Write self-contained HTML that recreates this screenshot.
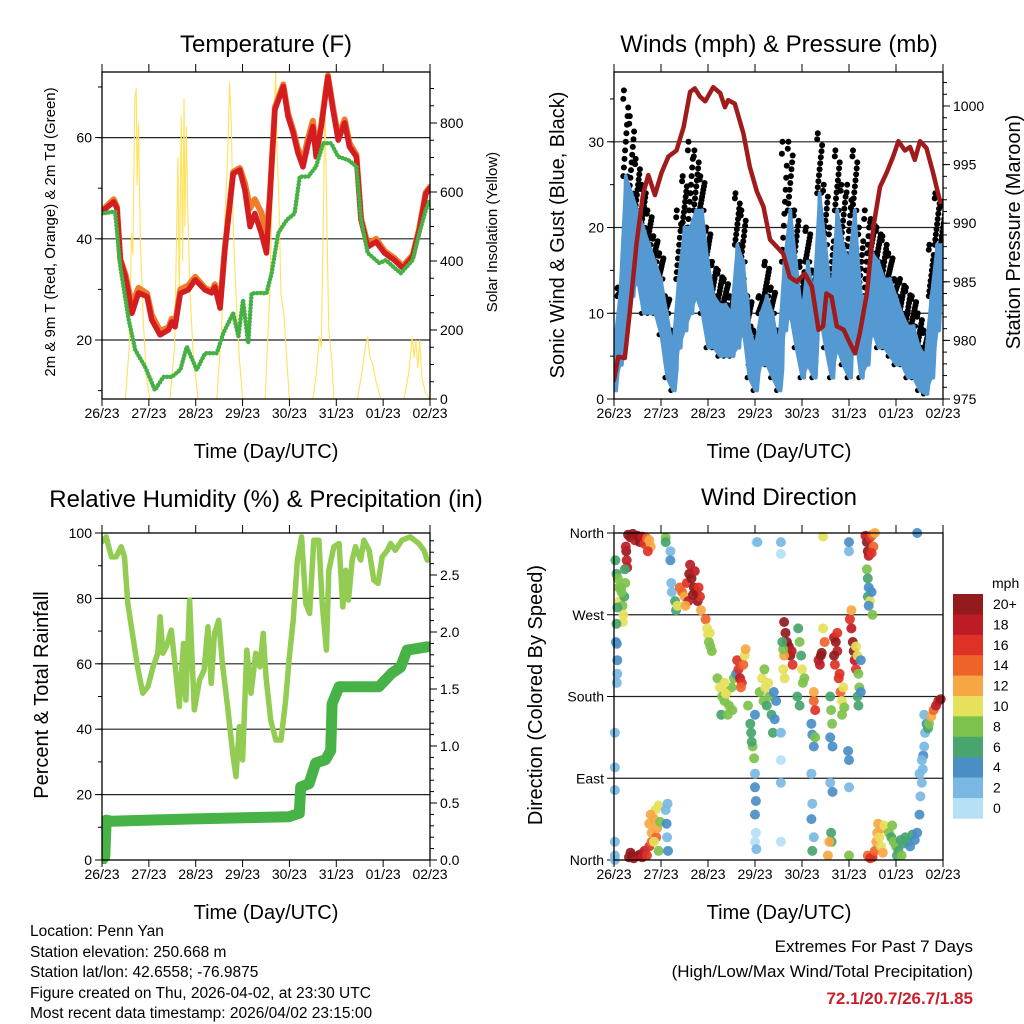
<!DOCTYPE html>
<html><head><meta charset="utf-8"><title>Station Meteogram - Penn Yan</title>
<style>
html,body{margin:0;padding:0;background:#fff;}
svg{display:block;font-family:"Liberation Sans",sans-serif;}
.tk{font-size:14px;fill:#000;}
.ttl{font-size:24px;fill:#000;}
.axt{font-size:20px;fill:#000;}
.info{font-size:15.5px;fill:#000;}
</style></head>
<body>
<svg id="chart" width="1024" height="1024" viewBox="0 0 1024 1024" xmlns="http://www.w3.org/2000/svg">
<rect x="0" y="0" width="1024" height="1024" fill="#fff"/>
<text class="ttl" x="266" y="52" text-anchor="middle">Temperature (F)</text>
<text class="ttl" x="779" y="52" text-anchor="middle">Winds (mph) &amp; Pressure (mb)</text>
<text class="ttl" x="266" y="507" text-anchor="middle">Relative Humidity (%) &amp; Precipitation (in)</text>
<text class="ttl" x="779" y="505" text-anchor="middle">Wind Direction</text>
<text class="axt" x="266" y="458" text-anchor="middle">Time (Day/UTC)</text>
<text class="axt" x="779" y="458" text-anchor="middle">Time (Day/UTC)</text>
<text class="axt" x="266" y="919" text-anchor="middle">Time (Day/UTC)</text>
<text class="axt" x="779" y="919" text-anchor="middle">Time (Day/UTC)</text>
<text x="0" y="0" font-size="15" transform="translate(55,232) rotate(-90)" text-anchor="middle">2m &amp; 9m T (Red, Orange) &amp; 2m Td (Green)</text>
<text x="0" y="0" font-size="15" transform="translate(497,232) rotate(-90)" text-anchor="middle">Solar Insolation (Yellow)</text>
<text class="axt" x="0" y="0" transform="translate(564,235) rotate(-90)" text-anchor="middle">Sonic Wind &amp; Gust (Blue, Black)</text>
<text class="axt" x="0" y="0" transform="translate(1020,232) rotate(-90)" text-anchor="middle">Station Pressure (Maroon)</text>
<text class="axt" x="0" y="0" transform="translate(48,695) rotate(-90)" text-anchor="middle">Percent &amp; Total Rainfall</text>
<text class="axt" x="0" y="0" transform="translate(542,695) rotate(-90)" text-anchor="middle">Direction (Colored By Speed)</text>
<g>
<text class="info" x="30" y="936">Location: Penn Yan</text>
<text class="info" x="30" y="957">Station elevation: 250.668 m</text>
<text class="info" x="30" y="977">Station lat/lon: 42.6558; -76.9875</text>
<text class="info" x="30" y="998">Figure created on Thu, 2026-04-02, at 23:30 UTC</text>
<text class="info" x="30" y="1018">Most recent data timestamp: 2026/04/02 23:15:00</text>
</g>
<g>
<text x="973" y="952" font-size="17" text-anchor="end">Extremes For Past 7 Days</text>
<text x="973" y="977" font-size="17" text-anchor="end">(High/Low/Max Wind/Total Precipitation)</text>
<text x="973" y="1004" font-size="17" font-weight="bold" fill="#c8202a" text-anchor="end">72.1/20.7/26.7/1.85</text>
</g>
<text x="992" y="588" font-size="14">mph</text>
</svg>
<script>
// ---------- data ----------
const dayLabels=['26/23','27/23','28/23','29/23','30/23','31/23','01/23','02/23'];
const tempDay=[0,.25,.32,.39,.50,.64,.78,.96,1.06,1.24,1.42,1.49,1.56,1.67,1.84,1.99,2.20,2.34,2.41,2.52,2.62,2.80,2.94,3.05,3.16,3.26,3.40,3.51,3.58,3.69,3.87,3.97,4.08,4.18,4.29,4.40,4.50,4.57,4.68,4.82,4.93,5.04,5.18,5.28,5.43,5.53,5.67,5.85,6.03,6.24,6.42,6.63,6.77,6.91,7.0];
const temp2m=[45.4,47.3,46,35.8,32.5,25.3,29.3,28.6,24,21,22,23.6,22.6,29.2,29.9,31.9,29.9,29.3,30.5,26.3,37.8,52.9,53.6,49.6,42.4,45,41.1,37.2,47.7,65.5,70.1,64.2,60.9,57,54.2,58.9,62.2,56.2,62.2,72,65.5,59.5,62.9,58.2,56.2,43.7,38.4,39.4,37.2,35.8,34.2,36.5,41.7,48.9,50];
const temp9m=[45.6,47.8,46.3,36,33,27,30.3,29.2,25,21.8,22.5,24.2,23.2,30,30.8,32.5,30.3,29.6,31,26.8,38,53.2,54,51,46,47.8,45.2,41,48,66,70.5,64.8,61.5,57.8,55.5,60,63.3,57,62.6,72.3,66,60.2,63.6,59,56.6,44,39,40,37.6,36.2,34.6,36.8,42,49.2,50.3];
const dewDay=[0,.28,.39,.57,.71,.92,1.13,1.31,1.49,1.67,1.81,2.02,2.20,2.45,2.59,2.80,2.91,3.01,3.12,3.19,3.37,3.51,3.62,3.76,3.94,4.11,4.22,4.40,4.57,4.72,4.89,5.04,5.25,5.43,5.53,5.67,5.92,6.06,6.21,6.38,6.63,6.77,6.91,7.0];
const dewVal=[45,45.4,34.5,24,18,14.7,10.1,12.7,12.7,14.1,18.7,14.1,17.4,17.4,21.4,25.3,20.7,27.9,19.3,29.2,29.3,29.2,33.2,41.1,43.7,45,52.3,52.3,54.3,58.9,58.9,56.2,55.6,54.3,43.7,37.2,35.2,35.8,34.5,33.2,35.8,41.1,45.7,47.7];
const solarDay=[0,0.50,0.58,0.63,0.66,0.70,0.73,0.75,0.78,0.82,0.88,0.95,1.02,1.45,1.55,1.62,1.65,1.69,1.72,1.75,1.77,1.80,1.83,1.88,1.95,2.05,2.45,2.55,2.62,2.68,2.72,2.76,2.80,2.86,2.93,3.0,3.48,3.58,3.64,3.68,3.71,3.74,3.77,3.82,3.88,3.94,4.0,4.5,4.58,4.64,4.68,4.72,4.76,4.80,4.84,4.90,4.95,5.45,5.55,5.62,5.67,5.72,5.78,5.85,5.95,6.45,6.55,6.62,6.66,6.70,6.74,6.78,6.83,6.90,6.99];
const solarVal=[0,0,150,480,420,870,900,620,800,450,230,60,0,0,150,700,300,820,400,870,500,790,550,300,120,0,0,200,520,700,916,800,500,300,120,0,0,300,640,850,949,700,600,300,250,120,0,0,80,180,150,500,858,500,200,120,0,0,80,150,180,120,100,50,0,0,80,180,120,170,90,170,60,20,0];
const windLo=[1,4,8,12,14,10,10,10,7.5,2.5,1,6,8,10,12,10,6,6,5,5,5,6,8,2.5,1,4,4,2.5,1,8,10,6,2.5,4,2.5,10,6,2.5,6,4,2.5,8,2.5,4,8,6,6,5,4,4,2.5,2.5,1,0.6,2.5,8,14];
const windHi=[6,12,26,24,22,20,18,16,14,10,6,14,20,20,22,22,16,12,11,11,10,18,16,8.5,6,10,12,10,6,16,22,16,10,16,12,24,18,12,22,18,16,22,12,12,17,16,14,14,12,10,8.5,8.5,6,5,12,18,18];
const gustMax=[8,13,36,33,28,25,22,19,17,12,8,22,26,30,29,26,20,16,15,14,12,24,22,12,8,12,16,13,8,30,30,22,16,20,15,31,25,20,29,25,25,29,20,22,21,20,19,17,14,14,13,12,10,8,18,24,23];
const presDay=[0,.09,.23,.34,.48,.62,.73,.87,1.01,1.16,1.33,1.48,1.62,1.72,1.83,1.94,2.11,2.26,2.36,2.43,2.57,2.75,2.89,3.04,3.18,3.32,3.46,3.60,3.74,3.89,4.06,4.21,4.35,4.45,4.52,4.63,4.74,4.89,4.99,5.13,5.23,5.38,5.52,5.66,5.80,5.94,6.05,6.19,6.30,6.40,6.51,6.65,6.79,6.94];
const presVal=[976.6,978.6,978.5,982.6,988.3,992.5,994.1,992.4,994.3,995.7,996.2,998.2,1001.2,1001.5,1000.8,1000.4,1001.6,1001.1,999.9,1000.5,1000.2,997.7,994.8,992.7,991.4,988.6,988,987.4,985.4,985,985.7,984.6,980.9,981.2,984,983.7,981.2,980.9,980,978.9,980.6,984,989.7,993.1,994.3,995.7,997,996.2,996.5,995.4,997,996.4,994.3,991.8];
const rhDay=[0,.09,.20,.30,.41,.48,.55,.66,.77,.87,.98,1.09,1.19,1.24,1.30,1.37,1.48,1.57,1.65,1.74,1.79,1.87,1.97,2.08,2.18,2.26,2.33,2.40,2.49,2.57,2.68,2.79,2.86,2.93,3.00,3.09,3.18,3.28,3.37,3.44,3.50,3.60,3.71,3.82,3.92,3.99,4.08,4.17,4.26,4.35,4.43,4.52,4.63,4.70,4.79,4.84,4.95,5.06,5.14,5.20,5.26,5.34,5.41,5.52,5.59,5.70,5.80,5.89,5.98,6.09,6.16,6.26,6.40,6.58,6.76,6.87,6.94];
const rhVal=[97.3,98.8,92.7,92.7,95.8,92.7,78.4,68.3,58.1,51,53,59.1,63.2,74.4,63.2,65.2,70.3,58.1,46.9,66.2,48.9,79.5,45.9,55,58.1,71.3,54,69.3,73.3,60.1,46.9,32.6,25.5,40.8,30.6,64.2,51,63.2,59.1,69.3,56,42.8,36.7,36.7,48.9,61.1,73.3,91.7,98.8,78.4,75.4,97.8,97.8,78.4,64.2,88.6,95.8,96.8,77.4,88.6,79.5,91.7,95.8,91.7,97.8,94.7,85.6,84.6,92.7,94.7,96.8,94.7,97.8,98.8,96.8,94.7,91.7];
const rainDay=[0,0.06,0.09,0.2,1.87,3.99,4.21,4.24,4.42,4.56,4.77,4.88,4.91,5.06,5.91,6.19,6.37,6.51,6.94];
const rainVal=[0,0.03,0.35,0.34,0.36,0.38,0.41,0.64,0.67,0.85,0.88,0.96,1.37,1.52,1.52,1.64,1.69,1.84,1.87];
const dirDay=[0.30,0.35,0.40,0.45,0.50,0.55,0.60,0.65,0.70,0.75,0.78,0.72,0.26,0.27,0.28,0.25,
0.03,0.05,0.10,0.12,0.15,0.18,0.20,0.22,0.08,0.23,0.24,0.19,0.05,0.04,0.16,0.07,0.07,0.07,0.06,0.06,
0.02,0.02,0.02,0.02,0.02,0.02,0.32,0.38,0.42,0.48,0.55,0.60,0.65,0.70,0.75,0.80,0.35,
0.75,0.80,0.85,0.88,0.90,0.92,0.95,0.98,0.85,0.78,0.95,1.10,1.12,1.13,1.15,1.14,
1.10,1.10,1.20,1.20,1.22,1.23,1.30,1.32,1.35,
1.40,1.45,1.50,1.55,1.60,1.65,1.70,1.72,1.75,1.78,1.80,1.83,1.85,1.58,1.62,1.68,1.52,
1.95,1.98,2.00,2.02,2.05,2.08,2.04,
2.20,2.25,2.30,2.35,2.40,2.45,2.50,2.55,2.28,2.42,2.52,2.35,2.60,2.38,
2.62,2.65,2.68,2.72,2.75,2.78,2.80,2.70,
2.85,2.90,2.92,2.95,2.98,2.93,3.00,3.00,3.00,3.02,3.00,3.02,3.00,3.03,3.03,
3.10,3.15,3.18,3.22,3.25,3.30,3.35,3.38,3.28,3.40,3.42,3.45,3.20,
3.55,3.55,3.55,3.55,3.55,3.55,
3.62,3.65,3.68,3.72,3.75,3.78,3.80,3.62,3.60,3.63,3.60,3.58,
3.92,3.95,3.98,4.00,4.02,3.90,3.95,4.05,
4.20,4.22,4.25,4.28,4.20,4.22,4.20,4.25,4.22,4.25,4.28,4.25,
4.35,4.40,4.38,4.42,4.45,4.48,
4.60,4.62,4.64,4.60,4.65,4.60,4.65,4.62,4.63,4.55,4.58,
4.68,4.72,4.75,4.70,4.78,4.80,4.75,4.68,
4.82,4.85,4.88,4.90,4.85,4.98,5.00,5.00,5.00,5.00,5.00,
5.02,5.05,5.08,5.10,5.12,5.15,5.05,
5.15,5.18,5.20,5.22,5.18,5.20,5.25,5.25,
5.35,5.38,5.40,5.42,5.45,5.50,5.52,5.48,5.55,
5.38,5.40,5.42,5.40,5.45,5.48,5.50,5.42,
5.40,5.45,5.50,5.55,5.58,5.60,5.62,5.65,5.70,5.68,5.72,5.75,
5.85,5.90,5.95,6.00,6.05,6.10,6.15,6.20,6.25,6.30,6.35,6.40,5.92,6.02,6.12,
6.45,6.50,6.52,6.55,6.57,6.58,6.60,6.62,6.65,6.60,6.55,6.50,
6.68,6.70,6.75,6.80,6.85,6.90,6.95,6.45,4.45,3.05];
const dirDeg=[358,355,359,352,357,350,356,348,354,352,345,340,340,330,322,345,
330,315,300,285,300,280,270,290,310,320,305,262,260,240,295,278,220,205,195,238,
140,102,77,20,5,0,3,5,2,4,6,3,10,5,15,20,8,
40,30,45,55,25,35,60,42,20,50,10,55,40,25,10,62,
355,350,340,330,305,295,285,275,280,
300,295,290,305,315,310,300,318,295,285,300,290,275,285,325,292,280,
265,255,248,240,235,230,250,
200,190,180,175,185,170,190,200,160,160,165,195,205,183,
220,210,200,195,215,225,232,190,
170,150,140,125,112,130,160,95,80,65,50,30,20,12,350,
185,200,175,190,170,180,160,140,195,185,155,175,210,
350,337,140,110,85,20,
262,250,240,235,225,230,215,225,210,200,232,240,
255,240,225,210,195,180,170,200,
150,138,125,135,95,62,45,25,10,175,165,185,
220,225,215,228,255,240,
180,165,150,135,125,85,75,30,20,5,20,
245,240,230,215,200,205,250,225,
185,175,190,168,160,120,110,80,5,340,350,
265,255,240,230,220,210,275,
235,225,205,190,180,170,185,220,
357,350,340,335,355,358,345,338,360,
320,310,300,290,285,295,270,280,
5,2,3,10,20,30,40,25,35,15,8,38,
30,25,20,15,10,22,18,25,20,15,28,22,38,5,5,
30,50,70,85,100,115,125,140,150,160,110,95,
145,150,158,165,170,175,177,360,356,350];
const dirSpd=[21,20,22,19,21,20,18,17,15,13,12,17,20,19,18,19,
7,7,9,10,8,8,10,6,8,7,9,11,6,5,9,7,4,3,3,5,
2,2,3,3,3,3,20,21,20,19,21,19,18,17,16,14,22,
12,13,12,11,14,12,10,9,11,13,8,3,4,3,4,2,
8,7,3,4,2,2,6,6,10,
14,15,13,16,20,21,20,19,21,20,17,16,13,18,18,22,12,
14,11,10,9,8,8,10,
8,10,9,8,10,9,8,9,7,8,9,11,4,11,
16,17,18,16,15,11,12,14,
8,6,6,8,9,7,5,2,4,4,4,1,1,2,1,
8,10,9,11,7,8,6,7,10,4,4,4,9,
2,1,2,1,2,1,
20,21,22,20,21,19,17,12,11,10,9,6,
6,8,7,10,8,6,7,9,
4,5,4,8,2,2,4,3,6,15,16,12,
19,21,18,20,10,14,
6,8,8,4,4,3,4,6,6,13,12,
18,20,19,16,17,16,17,21,
14,11,10,8,9,4,4,2,8,2,4,
17,18,20,21,19,16,12,
11,10,8,9,7,6,4,5,
19,20,21,18,17,15,14,16,13,
8,6,5,7,10,4,9,4,
15,16,17,14,12,12,13,11,12,10,13,11,
8,6,8,9,7,7,6,6,7,5,6,4,9,6,8,
4,4,2,3,2,4,2,3,4,2,2,2,
6,8,12,15,18,19,20,4,10,2];
const speedLabels=['20+','18','16','14','12','10','8','6','4','2','0'];
const speedColors=['#931a1d','#bd1c26','#de3227','#ef6329','#f6a744','#e6e15b','#7dc24c','#48a56e','#4a8ec6','#7ab8e3','#b5e1f6'];
const tempTicks=[20,40,60];
const solarTicks=[0,200,400,600,800];
const windTicks=[0,10,20,30];
const presTicks=[975,980,985,990,995,1000];
const rhTicks=[0,20,40,60,80,100];
const rainTicks=[0,0.5,1,1.5,2,2.5];
const dirTicks=[0,90,180,270,360];
const dirNames=['North','East','South','West','North'];

// ---------- setup ----------
const NS='http://www.w3.org/2000/svg';
const svg=document.getElementById('chart');
function mk(tag,attrs,parent){const e=document.createElementNS(NS,tag);for(const k in attrs)e.setAttribute(k,attrs[k]);(parent||svg).appendChild(e);return e;}
function lin(d0,d1,r0,r1){return v=>r0+(v-d0)*(r1-r0)/(d1-d0);}
const P1={l:102,r:430,t:72,b:399},P2={l:614,r:943,t:72,b:399},P3={l:102,r:430,t:533,b:860},P4={l:614,r:943,t:533,b:860};
const x1=lin(0,7,P1.l,P1.r),x2=lin(0,7,P2.l,P2.r),x3=lin(0,7,P3.l,P3.r),x4=lin(0,7,P4.l,P4.r);
const yT=lin(20,60,340,137.6),yS=lin(0,800,399,123);
const yW=lin(0,30,399,141.8),yP=lin(975,1000,399,106);
const yR=lin(0,100,860,533),yRain=lin(0,0.5,860,803);
const yD=lin(0,360,860,533);
function pts(xs,ys,xf,yf){return xs.map((d,i)=>xf(d).toFixed(1)+','+yf(ys[i]).toFixed(1)).join(' ');}

function clipFor(id,P){const cp=mk('clipPath',{id:id});mk('rect',{x:P.l,y:P.t-4,width:P.r-P.l,height:P.b-P.t+8},cp);return 'url(#'+id+')';}

function axes(name,P,xf){
  const g=mk('g',{});
  
  
  dayLabels.forEach((lab,i)=>{
    const x=xf(i);
    mk('line',{x1:x,y1:P.t-8,x2:x,y2:P.t,stroke:'#000','stroke-width':1},g);
    mk('line',{x1:x,y1:P.b,x2:x,y2:P.b+7,stroke:'#000','stroke-width':1},g);
    const t=mk('text',{x:x,y:P.b+19,'text-anchor':'middle',class:'tk'},g);
    
    
    t.textContent=lab;
  });
}
function frame(name,P){
  const f=mk('rect',{x:P.l,y:P.t,width:P.r-P.l,height:P.b-P.t,fill:'none',stroke:'#000','stroke-width':1.3});
  
  
}
function yTicks(name,P,ticks,yf,side,labels,minorStep,grid,fmt){
  const g=mk('g',{});
  
  
  const x0=side==='l'?P.l:P.r,dir=side==='l'?-1:1;
  if(minorStep){
    const lo=ticks[0],hi=ticks[ticks.length-1]+minorStep*20;
    for(let v=lo-minorStep*20;v<=hi;v+=minorStep){const y=yf(v);if(y<P.t-0.5||y>P.b+0.5)continue;
      mk('line',{x1:x0,y1:y,x2:x0+dir*4,y2:y,stroke:'#000','stroke-width':1},g);}
  }
  ticks.forEach((v,i)=>{
    const y=yf(v);
    mk('line',{x1:x0,y1:y,x2:x0+dir*7,y2:y,stroke:'#000','stroke-width':1},g);
    if(grid&&y>P.t+2&&y<P.b-2){const gl=mk('line',{x1:P.l,y1:y,x2:P.r,y2:y,stroke:'#222','stroke-width':1.2},g);
      
      }
    const t=mk('text',{x:x0+dir*10,y:y+5,'text-anchor':side==='l'?'end':'start',class:'tk'},g);
    
    
    t.textContent=labels?labels[i]:(fmt?fmt(v):String(v));
  });
}

// ---------- Panel 1: temperature ----------
const c1=clipFor('c1',P1);
yTicks('temperature-y-axis',P1,tempTicks,yT,'l',null,10,true);
yTicks('solar-y-axis',P1,solarTicks,yS,'r',null,50,false);
const g1=mk('g',{'clip-path':c1});


const solar=mk('polyline',{points:pts(solarDay,solarVal,x1,yS),fill:'none',stroke:'#ffe15a','stroke-width':1.1,'stroke-linejoin':'round'},g1);


const t9=mk('polyline',{points:pts(tempDay,temp9m,x1,yT),fill:'none',stroke:'#f07c2a','stroke-width':6,'stroke-linejoin':'round','stroke-linecap':'round'},g1);


const t2=mk('polyline',{points:pts(tempDay,temp2m,x1,yT),fill:'none',stroke:'#d31d20','stroke-width':5.5,'stroke-linejoin':'round','stroke-linecap':'round'},g1);


const td=mk('polyline',{points:pts(dewDay,dewVal,x1,yT),fill:'none',stroke:'#45b044','stroke-width':4.5,'stroke-dasharray':'0 3.4','stroke-linecap':'round','stroke-linejoin':'round'},g1);


frame('temperature',P1);
axes('temperature',P1,x1);

// ---------- Panel 2: winds ----------
const c2=clipFor('c2',P2);
yTicks('wind-y-axis',P2,windTicks,yW,'l',null,5,true);
yTicks('pressure-y-axis',P2,presTicks,yP,'r',null,1,false);
const g2=mk('g',{'clip-path':c2});


const wStep=7/(windLo.length-1);
windLo.forEach((lo,i)=>{
  const d=i*wStep,hi=windHi[i],gu=gustMax[i];
  for(let k=0;k<=10;k++){
    const v=hi+(gu-hi)*k/10;
    const dd=d+((k*37)%9-4)*0.013;
    const c=mk('circle',{cx:x2(dd).toFixed(1),cy:yW(v).toFixed(1),r:3,fill:'#000'},g2);
    
    
  }
  for(let k=0;k<=4;k++){
    const v=lo+(hi-lo)*k/4;
    const c=mk('circle',{cx:x2(d+(k-2)*0.02).toFixed(1),cy:yW(v).toFixed(1),r:2.6,fill:'#000'},g2);
    
    
  }
});
function windBandPts(){const top=windHi.map((v,i)=>x2(i*wStep).toFixed(1)+','+yW(v).toFixed(1));const bot=windLo.map((v,i)=>x2(i*wStep).toFixed(1)+','+yW(v).toFixed(1)).reverse();return top.concat(bot).join(' ');}
const band=mk('polygon',{points:windBandPts(),fill:'#5599d3',stroke:'#5599d3','stroke-width':3,'stroke-linejoin':'round'},g2);


let zig=[];
windLo.forEach((lo,i)=>{const d=i*wStep;zig.push(x2(d).toFixed(1)+','+yW(windHi[i]).toFixed(1));zig.push(x2(Math.min(7,d+wStep/3)).toFixed(1)+','+yW(lo).toFixed(1));zig.push(x2(Math.min(7,d+2*wStep/3)).toFixed(1)+','+yW((lo+windHi[i])/2).toFixed(1));});
const wz=mk('polyline',{points:zig.join(' '),fill:'none',stroke:'#5599d3','stroke-width':4,'stroke-linejoin':'round'},g2);


const pr=mk('polyline',{points:pts(presDay,presVal,x2,yP),fill:'none',stroke:'#a01b1c','stroke-width':4.5,'stroke-linejoin':'round','stroke-linecap':'round'},g2);


frame('winds',P2);
axes('winds',P2,x2);

// ---------- Panel 3: humidity ----------
const c3=clipFor('c3',P3);
yTicks('humidity-y-axis',P3,rhTicks,yR,'l',null,10,true);
yTicks('rain-y-axis',P3,rainTicks,yRain,'r',null,0.1,false,v=>v.toFixed(1));
const g3=mk('g',{'clip-path':c3});


const rh=mk('polyline',{points:pts(rhDay,rhVal,x3,yR),fill:'none',stroke:'#93cc52','stroke-width':5.5,'stroke-linejoin':'round','stroke-linecap':'round'},g3);


const rn=mk('polyline',{points:pts(rainDay,rainVal,x3,yRain),fill:'none',stroke:'#47b347','stroke-width':11,'stroke-linejoin':'round','stroke-linecap':'round'},g3);


frame('humidity',P3);
axes('humidity',P3,x3);

// ---------- Panel 4: wind direction ----------
yTicks('direction-y-axis',P4,dirTicks,yD,'l',dirNames,0,true);
const g4=mk('g',{});


function spdColor(s){const idx=Math.min(10,Math.floor(s/2));return speedColors[10-idx];}
dirDay.forEach((d,i)=>{
  const c=mk('circle',{cx:x4(d).toFixed(1),cy:yD(dirDeg[i]).toFixed(1),r:5,fill:spdColor(dirSpd[i]),'fill-opacity':0.92},g4);
  
  
});
frame('wind-direction',P4);
axes('wind-direction',P4,x4);

// colorbar
const cb=mk('g',{});


const cbTop=594,cbH=20.4;
speedLabels.forEach((lab,i)=>{
  const r=mk('rect',{x:953,y:cbTop+i*cbH,width:30,height:cbH+0.3,fill:speedColors[i]},cb);
  
  
  const t=mk('text',{x:993,y:cbTop+i*cbH+15,class:'tk'},cb);
  
  
  t.textContent=lab;
});
</script>
</body></html>
